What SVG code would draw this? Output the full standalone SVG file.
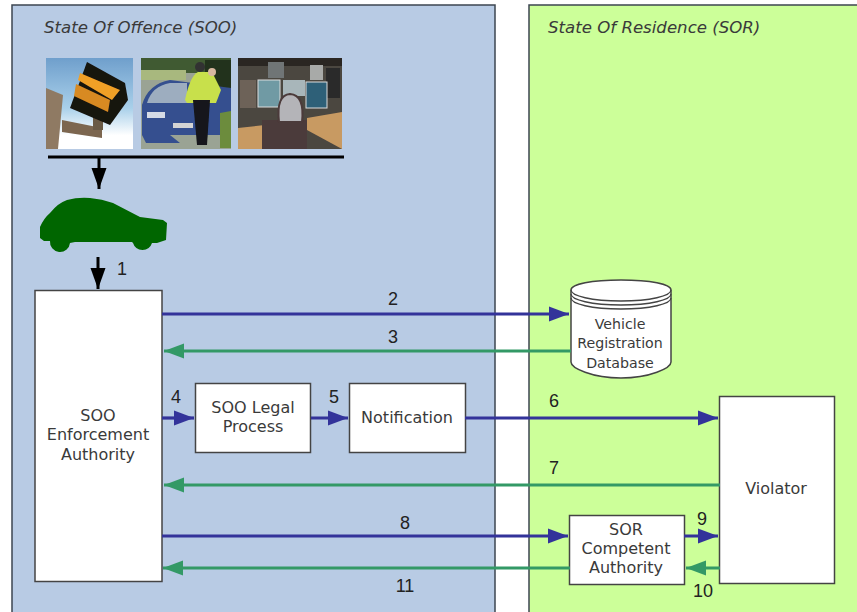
<svg xmlns="http://www.w3.org/2000/svg" width="857" height="612" viewBox="0 0 857 612">
<style>
.t{font-family:"DejaVu Sans",Verdana,sans-serif;font-size:16px;fill:#3a3a3a;text-anchor:middle}
.d{font-size:14.2px}
.h{font-family:"DejaVu Sans",Verdana,sans-serif;font-size:16.6px;font-style:italic;fill:#3a3a3a}
.n{font-family:"Liberation Sans",Arial,sans-serif;font-size:18px;fill:#222;text-anchor:middle}
.b{fill:#fff;stroke:#444;stroke-width:1.5}
.bl{stroke:#33339a;stroke-width:3.2;fill:none}
.gr{stroke:#339966;stroke-width:3.2;fill:none}
.k{stroke:#000;stroke-width:3;fill:none}
</style>
<defs>
<marker id="ab" markerUnits="userSpaceOnUse" markerWidth="20" markerHeight="16" refX="20" refY="8" orient="auto"><path d="M0 0.500L20 8L0 15.500Z" fill="#33339a"/></marker>
<marker id="ag" markerUnits="userSpaceOnUse" markerWidth="20" markerHeight="16" refX="20" refY="8" orient="auto"><path d="M0 0.500L20 8L0 15.500Z" fill="#339966"/></marker>
<marker id="ak" markerUnits="userSpaceOnUse" markerWidth="21" markerHeight="16" refX="21" refY="8" orient="auto"><path d="M0 0.500L21 8L0 15.500Z" fill="#000"/></marker>
<linearGradient id="sky" x1="0" y1="0" x2="0" y2="1"><stop offset="0" stop-color="#6f9fcc"/><stop offset="0.55" stop-color="#a9d0ea"/><stop offset="0.85" stop-color="#fff"/></linearGradient>
<filter id="soft" x="-5%" y="-5%" width="110%" height="110%"><feGaussianBlur stdDeviation="0.7"/></filter>
<clipPath id="c1"><rect x="46" y="58" width="87" height="91"/></clipPath>
<clipPath id="c2"><rect x="141" y="58" width="90" height="91"/></clipPath>
<clipPath id="c3"><rect x="238" y="58" width="104" height="91"/></clipPath>
</defs>
<rect width="857" height="612" fill="#fff"/>
<g id="soo-panel"><rect x="12" y="5" width="483" height="612" fill="#b8cbe4" stroke="#3c4650" stroke-width="1.5"/><text class="h" x="44" y="33">State Of Offence (SOO)</text></g>
<g id="sor-panel"><rect x="529" y="5" width="340" height="612" fill="#ccff99" stroke="#3c4650" stroke-width="1.5"/><text class="h" x="548" y="33">State Of Residence (SOR)</text></g>
<g id="photos">
<g id="photo-camera" clip-path="url(#c1)"><g filter="url(#soft)"><rect x="46" y="58" width="87" height="91" fill="url(#sky)"/><path d="M46 88L63 95L58 149H46Z" fill="#8f7a64"/><path d="M62 120L102 128V138L62 132Z" fill="#7c6650"/><rect x="93" y="110" width="10" height="20" fill="#6a5a44"/><path d="M87 62L125 83L128 100L110 125L70 108Z" fill="#17120e"/><path d="M80 73L120 90L112 100L78 80Z" fill="#f0a028"/><path d="M76 84L110 100L108 112L74 96Z" fill="#d88a20"/></g></g>
<g id="photo-police" clip-path="url(#c2)"><g filter="url(#soft)"><rect x="141" y="58" width="90" height="91" fill="#9aa394"/><rect x="141" y="58" width="90" height="15" fill="#3f5a33"/><rect x="141" y="70" width="45" height="10" fill="#a8b87e"/><rect x="205" y="60" width="26" height="40" fill="#24331f"/><path d="M142 105Q148 84 170 80L231 88V135H170L180 143H146L142 135Z" fill="#34508f"/><path d="M147 103Q152 86 170 83H187V103Z" fill="#9dadbf"/><rect x="173" y="123" width="20" height="5" fill="#d4d4d4"/><rect x="147" y="112" width="18" height="6" fill="#d6dbe6"/><path d="M185 100Q190 76 198 72H212L221 90L216 103H187Z" fill="#c8e04c"/><circle cx="200" cy="67" r="5" fill="#333"/><circle cx="212" cy="72" r="4" fill="#d8b8a0"/><path d="M193 100H210L207 145H197Z" fill="#15151a"/><path d="M220 113L231 111V148H220Z" fill="#6c8c3c"/></g></g>
<g id="photo-control" clip-path="url(#c3)"><g filter="url(#soft)"><rect x="238" y="58" width="104" height="91" fill="#4b4640"/><rect x="238" y="58" width="104" height="8" fill="#2c2824"/><rect x="268" y="62" width="16" height="16" fill="#6f7476"/><rect x="310" y="65" width="13" height="15" fill="#a8aaa8"/><rect x="326" y="68" width="14" height="30" fill="#2a2a2a"/><rect x="240" y="80" width="16" height="28" fill="#6d6258"/><path d="M238 128L265 125V149H238Z" fill="#c89a62"/><path d="M307 118L342 112V149L307 130Z" fill="#c89a62"/><rect x="258" y="80" width="22" height="27" fill="#6f9aa4" stroke="#ddd"/><rect x="283" y="80" width="22" height="16" fill="#a8b6ba"/><rect x="306" y="82" width="21" height="26" fill="#2f6078" stroke="#ddd"/><rect x="262" y="120" width="45" height="29" fill="#4c3a3a"/><path d="M279 122Q276 95 290 94Q305 95 302 122Z" fill="#b4b4b8" stroke="#4c3a3a" stroke-width="2"/></g></g>
</g>
<g id="car"><path d="M40 227Q44 218 50 213Q58 203 67 200Q78 197 90 198Q102 199 113 203L140 217L163 220L167 223L166 240L157 243H152A10 10 0 0 1 133 243L132 242H75L70 243A10 10 0 0 1 50 241L44 241L40 238Z" fill="#006600"/></g>
<g id="soo-enforcement"><rect class="b" x="35" y="290.500" width="127" height="291"/><text class="t" x="98" y="421">SOO</text><text class="t" x="98" y="440">Enforcement</text><text class="t" x="98" y="460">Authority</text></g>
<g id="vehicle-db"><path class="b" d="M571 290V362C571 368 592 378 621 378C650 378 671 368 671 362V290C671 284 650 280 621 280C592 280 571 284 571 290Z"/><path d="M571 290C571 296 592 301 621 301C650 301 671 296 671 290M571 294C571 300 592 305 621 305C650 305 671 300 671 294M571 298C571 304 592 309 621 309C650 309 671 304 671 298" fill="none" stroke="#444" stroke-width="1.300"/><text class="t d" x="620" y="329">Vehicle</text><text class="t d" x="620" y="348">Registration</text><text class="t d" x="620" y="368">Database</text></g>
<g id="soo-legal"><rect class="b" x="195.500" y="383.500" width="115" height="69"/><text class="t" x="253" y="413">SOO Legal</text><text class="t" x="253" y="432">Process</text></g>
<g id="notification"><rect class="b" x="349.500" y="383.500" width="116" height="69"/><text class="t" x="407" y="423">Notification</text></g>
<g id="violator"><rect class="b" x="719.500" y="396.500" width="115" height="187"/><text class="t" x="776" y="494">Violator</text></g>
<g id="sor-authority"><rect class="b" x="569.500" y="515.500" width="115" height="69"/><text class="t" x="626" y="535">SOR</text><text class="t" x="626" y="554">Competent</text><text class="t" x="626" y="573">Authority</text></g>
<g id="connectors">
<line class="k" x1="48" y1="157" x2="344" y2="157"/>
<line class="k" x1="99" y1="158" x2="99" y2="189" marker-end="url(#ak)"/>
<line class="k" x1="98" y1="257" x2="98" y2="289" marker-end="url(#ak)"/>
<line class="bl" x1="162" y1="314" x2="569" y2="314" marker-end="url(#ab)"/>
<line class="gr" x1="571" y1="351" x2="164" y2="351" marker-end="url(#ag)"/>
<line class="bl" x1="162" y1="418" x2="194" y2="418" marker-end="url(#ab)"/>
<line class="bl" x1="311" y1="418" x2="348" y2="418" marker-end="url(#ab)"/>
<line class="bl" x1="465" y1="418" x2="718" y2="418" marker-end="url(#ab)"/>
<line class="gr" x1="720" y1="485" x2="164" y2="485" marker-end="url(#ag)"/>
<line class="bl" x1="162" y1="536" x2="568" y2="536" marker-end="url(#ab)"/>
<line class="gr" x1="570" y1="568" x2="163" y2="568" marker-end="url(#ag)"/>
<line class="bl" x1="684" y1="536" x2="718" y2="536" marker-end="url(#ab)"/>
<line class="gr" x1="720" y1="568" x2="686" y2="568" marker-end="url(#ag)"/>
</g>
<g id="labels">
<text class="n" x="122" y="275">1</text><text class="n" x="393" y="305">2</text><text class="n" x="393" y="343">3</text><text class="n" x="176" y="403">4</text><text class="n" x="334" y="403">5</text><text class="n" x="554" y="407">6</text><text class="n" x="554" y="474">7</text><text class="n" x="405" y="529">8</text><text class="n" x="702" y="525">9</text><text class="n" x="703" y="597">10</text><text class="n" x="405" y="592">11</text>
</g>
</svg>
